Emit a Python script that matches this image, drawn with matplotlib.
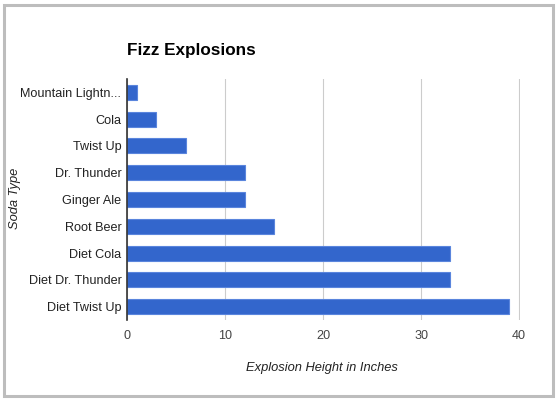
import matplotlib.pyplot as plt
from matplotlib.patches import Rectangle

# soda names top to bottom, as in the chart
sodas = ["Mountain Lightn...", "Cola", "Twist Up", "Dr. Thunder", "Ginger Ale",
         "Root Beer", "Diet Cola", "Diet Dr. Thunder", "Diet Twist Up"]
heights = [1, 3, 6, 12, 12, 15, 33, 33, 39]
x_ticks = [0, 10, 20, 30, 40]

plt.rcParams["font.family"] = ["Liberation Sans", "DejaVu Sans"]

W, H = 557, 400
fig = plt.figure(figsize=(W / 100, H / 100), dpi=100)
fig.patch.set_facecolor("white")

# grey frame around the whole chart
fig.patches.append(Rectangle((3.5 / W, 4 / H), 549 / W, 391.5 / H,
                             transform=fig.transFigure, fill=False,
                             edgecolor="#bdbdbd", linewidth=2.2))

ax = fig.add_axes([127 / W, 80 / H, (519.5 - 127) / W, (321 - 80) / H])
ypos = list(range(len(sodas)))
ax.barh(ypos, heights, height=0.56, color="#3366cc", edgecolor="#5a85dd",
        linewidth=0.8, zorder=3)
ax.set_ylim(len(sodas) - 0.5, -0.5)
ax.set_xlim(0, 40.05)
ax.set_yticks(ypos)
ax.set_yticklabels(sodas, fontsize=9.1, color="#222222")
ax.set_xticks(x_ticks)
ax.set_xticklabels([str(t) for t in x_ticks], fontsize=9.1, color="#444444")
ax.tick_params(axis="both", length=0)
ax.tick_params(axis="y", pad=4)
ax.tick_params(axis="x", pad=7)
ax.grid(axis="x", color="#cccccc", linewidth=0.8, zorder=0)
for side in ["top", "right", "bottom"]:
    ax.spines[side].set_visible(False)
ax.spines["left"].set_color("#333333")
ax.spines["left"].set_linewidth(1.2)
ax.spines["left"].set_zorder(4)

fig.text(127 / W, 1 - 51 / H, "Fizz Explosions", fontsize=12.3, fontweight="bold",
         color="#000000", ha="left", va="center")
fig.text(322 / W, 1 - 368 / H, "Explosion Height in Inches", fontsize=9.3,
         style="italic", color="#222222", ha="center", va="center")
fig.text(15 / W, 1 - 198 / H, "Soda Type", fontsize=9.3, style="italic",
         color="#222222", ha="center", va="center", rotation=90)

fig.savefig("out.png", dpi=100, facecolor="white")
